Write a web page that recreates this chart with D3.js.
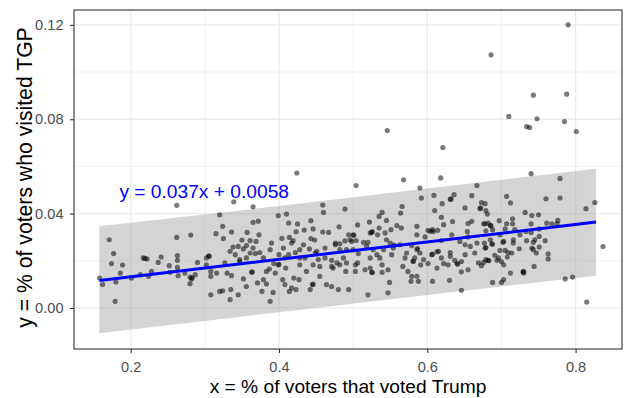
<!DOCTYPE html>
<html>
<head>
<meta charset="utf-8">
<script src="https://cdn.jsdelivr.net/npm/d3@7"></script>
<style>
  html, body { margin: 0; padding: 0; background: #ffffff; }
  svg { display: block; }
  text { font-family: "Liberation Sans", Arial, Helvetica, sans-serif; }
</style>
</head>
<body>
<svg id="chart" width="625" height="398"></svg>
<script>
// Share of voters who voted Trump (x) vs share of voters who visited TGP (y), one point per area
const trumpShare = [
  0.262,0.171,0.262,0.281,0.315,0.320,
  0.177,0.174,0.189,0.158,0.162,0.186,0.180,0.179,0.201,0.213,0.217,0.222,0.228,0.224,
  0.237,0.241,0.252,0.253,0.263,0.263,0.263,0.264,0.273,0.280,0.282,0.280,0.287,0.290,
  0.302,0.306,0.302,0.308,0.308,0.308,0.316,0.320,
  0.424,0.339,0.365,0.459,0.460,0.489,0.410,0.399,0.365,0.372,0.413,0.425,0.443,0.324,
  0.446,0.481,0.336,0.357,0.373,0.423,0.434,0.459,0.467,0.325,0.350,0.361,0.369,0.390,
  0.404,0.414,0.419,0.443,0.448,0.476,0.489,
  0.338,0.334,0.345,0.341,0.352,0.356,0.365,0.368,0.374,0.356,0.347,0.330,0.336,0.352,
  0.324,0.335,0.345,0.334,0.356,0.363,0.371,0.377,0.379,0.383,0.388,0.392,0.383,0.387,
  0.388,0.393,0.399,0.395,0.400,0.406,0.408,0.409,0.405,0.408,0.414,0.417,0.423,0.420,
  0.427,0.417,0.422,0.428,0.428,0.435,0.433,0.441,0.437,0.446,0.445,0.442,0.449,0.453,
  0.455,0.462,0.464,0.462,0.471,0.471,0.473,0.480,0.476,0.482,0.487,0.482,0.491,0.491,
  0.490,0.494,0.361,
  0.504,0.568,0.618,0.590,0.592,0.609,0.636,0.632,0.660,0.667,0.620,0.651,0.566,0.564,
  0.610,0.539,0.535,0.545,0.522,0.506,0.619,0.622,0.634,0.655,0.671,0.559,0.565,0.551,
  0.535,0.586,0.607,0.660,0.543,0.526,0.523,0.500,0.533,0.586,0.601,0.608,0.614,0.633,
  0.654,0.504,0.520,0.545,0.597,0.655,0.619,
  0.500,0.507,0.506,0.503,0.516,0.523,0.525,0.539,0.539,0.547,0.549,0.547,0.520,0.523,
  0.532,0.527,0.518,0.541,0.536,0.552,0.554,0.563,0.567,0.574,0.570,0.572,0.579,0.578,
  0.588,0.586,0.583,0.581,0.586,0.579,0.590,0.595,0.591,0.601,0.606,0.613,0.607,0.615,
  0.619,0.622,0.628,0.630,0.631,0.631,0.640,0.637,0.646,0.646,0.646,0.651,0.655,0.658,
  0.664,0.669,0.667,0.651,0.644,0.498,0.514,0.550,
  0.740,0.779,0.707,0.712,0.760,0.779,0.826,0.814,0.673,0.678,0.672,0.679,0.681,0.732,
  0.741,0.750,0.715,0.697,0.707,0.715,0.740,0.761,0.768,0.776,0.775,0.676,0.682,0.685,
  0.688,0.679,0.705,0.718,0.751,0.740,0.733,0.725,0.698,0.685,0.716,0.734,0.745,0.751,
  0.759,0.703,
  0.837,0.677,0.687,0.678,0.702,0.716,0.743,0.751,0.705,0.709,0.714,0.724,0.741,0.743,
  0.747,0.763,0.763,0.698,0.691,0.696,0.708,0.679,0.676,0.682,0.694,0.700,0.703,0.673,
  0.712,0.730,0.730,0.744,0.688,0.700,0.703,0.786,0.796,0.815,
  0.790,0.686,0.743,0.788,0.710,0.748,0.785,0.734,0.738,0.801,0.546,0.621,
  // overlapping points in the dense middle band
  0.587,0.607,0.613,0.581,0.526,0.503,0.641,0.555,
  0.400,0.446,0.455,0.364,0.478,0.471,0.428,
  0.679,0.688,0.729,0.683,0.678,0.686,
  0.631,0.604,0.501,0.525,0.496,
  0.283,0.305,0.219,0.494,
  0.327,0.347,0.379,0.413,0.451,0.482
];
const tgpShare = [
  0.0435,0.0289,0.0299,0.0309,0.0315,0.0395,
  0.0230,0.0188,0.0182,0.0127,0.0099,0.0148,0.0110,0.0028,0.0127,0.0141,0.0212,0.0208,0.0155,0.0134,
  0.0193,0.0216,0.0179,0.0151,0.0222,0.0202,0.0172,0.0137,0.0148,0.0131,0.0123,0.0103,0.0141,0.0193,
  0.0212,0.0219,0.0183,0.0155,0.0134,0.0056,0.0148,0.0070,
  0.0572,0.0450,0.0429,0.0436,0.0405,0.0419,0.0398,0.0391,0.0363,0.0368,0.0360,0.0356,0.0370,0.0346,
  0.0335,0.0344,0.0322,0.0320,0.0310,0.0323,0.0330,0.0322,0.0320,0.0294,0.0288,0.0285,0.0282,0.0275,
  0.0295,0.0299,0.0285,0.0294,0.0288,0.0275,0.0284,
  0.0258,0.0240,0.0261,0.0226,0.0250,0.0264,0.0254,0.0230,0.0235,0.0212,0.0205,0.0148,0.0137,0.0123,
  0.0073,0.0078,0.0056,0.0035,0.0091,0.0151,0.0106,0.0070,0.0120,0.0102,0.0028,0.0066,0.0155,0.0165,
  0.0247,0.0188,0.0183,0.0148,0.0226,0.0254,0.0212,0.0169,0.0120,0.0099,0.0070,0.0085,0.0078,0.0127,
  0.0120,0.0275,0.0235,0.0247,0.0183,0.0212,0.0268,0.0250,0.0155,0.0183,0.0099,0.0078,0.0233,0.0205,
  0.0176,0.0212,0.0099,0.0254,0.0202,0.0091,0.0169,0.0078,0.0268,0.0183,0.0212,0.0272,0.0247,0.0191,
  0.0155,0.0078,0.0233,
  0.0519,0.0543,0.0551,0.0508,0.0466,0.0477,0.0480,0.0462,0.0476,0.0519,0.0442,0.0424,0.0430,0.0402,
  0.0413,0.0405,0.0388,0.0371,0.0364,0.0352,0.0384,0.0353,0.0366,0.0358,0.0421,0.0349,0.0339,0.0332,
  0.0339,0.0346,0.0332,0.0367,0.0318,0.0324,0.0318,0.0310,0.0310,0.0310,0.0329,0.0324,0.0329,0.0310,
  0.0324,0.0286,0.0278,0.0289,0.0301,0.0301,0.0286,
  0.0247,0.0230,0.0191,0.0155,0.0162,0.0169,0.0151,0.0151,0.0183,0.0162,0.0108,0.0064,0.0056,0.0212,
  0.0226,0.0247,0.0261,0.0247,0.0212,0.0226,0.0254,0.0268,0.0176,0.0155,0.0212,0.0233,0.0134,0.0113,
  0.0113,0.0134,0.0212,0.0197,0.0247,0.0264,0.0233,0.0205,0.0183,0.0188,0.0226,0.0169,0.0113,0.0240,
  0.0212,0.0188,0.0183,0.0117,0.0219,0.0235,0.0188,0.0202,0.0153,0.0075,0.0197,0.0226,0.0162,0.0261,
  0.0233,0.0191,0.0275,0.0268,0.0282,0.0282,0.0278,0.0275,
  0.0569,0.0549,0.0473,0.0445,0.0463,0.0466,0.0447,0.0421,0.0447,0.0442,0.0424,0.0413,0.0398,0.0405,
  0.0392,0.0395,0.0378,0.0370,0.0357,0.0357,0.0356,0.0360,0.0357,0.0371,0.0357,0.0357,0.0360,0.0350,
  0.0332,0.0327,0.0335,0.0332,0.0335,0.0320,0.0324,0.0310,0.0310,0.0289,0.0289,0.0285,0.0289,0.0303,
  0.0285,0.0282,
  0.0260,0.0275,0.0272,0.0254,0.0278,0.0275,0.0278,0.0258,0.0244,0.0235,0.0233,0.0251,0.0254,0.0247,
  0.0233,0.0229,0.0208,0.0244,0.0223,0.0212,0.0216,0.0205,0.0193,0.0202,0.0202,0.0197,0.0183,0.0179,
  0.0148,0.0155,0.0148,0.0176,0.0108,0.0108,0.0120,0.0123,0.0131,0.0025,
  0.1200,0.1073,0.0902,0.0906,0.0812,0.0802,0.0790,0.0769,0.0765,0.0748,0.0752,0.0680,
  // overlapping points in the dense middle band
  0.0252,0.0228,0.0238,0.0199,0.0150,0.0183,0.0186,0.0266,
  0.0185,0.0101,0.0134,0.0153,0.0191,0.0176,0.0212,
  0.0256,0.0270,0.0153,0.0200,0.0357,0.0348,
  0.0460,0.0325,0.0308,0.0320,0.0289,
  0.0128,0.0221,0.0210,0.0310,
  0.0191,0.0197,0.0212,0.0226,0.0240,0.0247
];

// Fitted line y = 0.037x + 0.0058 and its prediction band
const fitSlope = 0.037;
const fitIntercept = 0.0058;
const fitLabel = "y = 0.037x + 0.0058";
const bandX     = [0.1577, 0.40, 0.60, 0.8275];
const bandLower = [-0.0107, -0.0018, 0.0055, 0.0137];
const bandUpper = [0.0346, 0.0432, 0.0506, 0.0590];

// Axis ticks
const xTicks = [0.2, 0.4, 0.6, 0.8];
const xMinor = [0.3, 0.5, 0.7];
const yTicks = [0.00, 0.04, 0.08, 0.12];
const yMinor = [0.02, 0.06, 0.10];

const xTitle = "x = % of voters that voted Trump";
const yTitle = "y = % of voters who visited TGP";

// Panel geometry
const panel = { left: 74, top: 10, right: 622, bottom: 349 };

const svg = d3.select("#chart");

const x = d3.scaleLinear().domain([0.1235, 0.8626]).range([panel.left, panel.right]);
const y = d3.scaleLinear().domain([-0.0174, 0.1263]).range([panel.bottom, panel.top]);

svg.append("rect")
  .attr("x", 0).attr("y", 0).attr("width", 625).attr("height", 398)
  .attr("fill", "#ffffff");

const clip = svg.append("defs").append("clipPath").attr("id", "panel-clip");
clip.append("rect")
  .attr("x", panel.left).attr("y", panel.top)
  .attr("width", panel.right - panel.left).attr("height", panel.bottom - panel.top);

const grid = svg.append("g").attr("clip-path", "url(#panel-clip)");

// minor grid
grid.selectAll(".xminor").data(xMinor).enter().append("line")
  .attr("x1", d => x(d)).attr("x2", d => x(d))
  .attr("y1", panel.top).attr("y2", panel.bottom)
  .attr("stroke", "#ebebeb").attr("stroke-width", 0.7);
grid.selectAll(".yminor").data(yMinor).enter().append("line")
  .attr("y1", d => y(d)).attr("y2", d => y(d))
  .attr("x1", panel.left).attr("x2", panel.right)
  .attr("stroke", "#ebebeb").attr("stroke-width", 0.7);
// major grid
grid.selectAll(".xmajor").data(xTicks).enter().append("line")
  .attr("x1", d => x(d)).attr("x2", d => x(d))
  .attr("y1", panel.top).attr("y2", panel.bottom)
  .attr("stroke", "#ebebeb").attr("stroke-width", 1.3);
grid.selectAll(".ymajor").data(yTicks).enter().append("line")
  .attr("y1", d => y(d)).attr("y2", d => y(d))
  .attr("x1", panel.left).attr("x2", panel.right)
  .attr("stroke", "#ebebeb").attr("stroke-width", 1.3);

const plot = svg.append("g").attr("clip-path", "url(#panel-clip)");

// prediction band
const band = bandX.map((bx, i) => ({ x: bx, lo: bandLower[i], hi: bandUpper[i] }));
plot.append("path")
  .datum(band)
  .attr("d", d3.area().x(d => x(d.x)).y0(d => y(d.lo)).y1(d => y(d.hi)))
  .attr("fill", "#999999").attr("fill-opacity", 0.42);

// points
const pts = trumpShare.map((v, i) => ({ x: v, y: tgpShare[i] }));
plot.selectAll("circle").data(pts).enter().append("circle")
  .attr("cx", d => x(d.x)).attr("cy", d => y(d.y))
  .attr("r", 2.6)
  .attr("fill", "#000000").attr("fill-opacity", 0.52);

// fitted line
const lineEnds = [bandX[0], bandX[bandX.length - 1]];
plot.append("path")
  .datum(lineEnds)
  .attr("d", d3.line().x(d => x(d)).y(d => y(fitSlope * d + fitIntercept)))
  .attr("fill", "none").attr("stroke", "#0000ff").attr("stroke-width", 3);

// equation label
svg.append("text")
  .attr("x", x(0.1847)).attr("y", y(0.0466))
  .attr("fill", "#0000ff").attr("font-size", "19.2px")
  .text(fitLabel);

// panel border
svg.append("rect")
  .attr("x", panel.left).attr("y", panel.top)
  .attr("width", panel.right - panel.left).attr("height", panel.bottom - panel.top)
  .attr("fill", "none").attr("stroke", "#333333").attr("stroke-width", 1.1);

// axes
const xAxis = svg.append("g")
  .attr("transform", `translate(0,${panel.bottom})`)
  .call(d3.axisBottom(x).tickValues(xTicks).tickFormat(d3.format(".1f")).tickSize(4).tickPadding(9));
const yAxis = svg.append("g")
  .attr("transform", `translate(${panel.left},0)`)
  .call(d3.axisLeft(y).tickValues(yTicks).tickFormat(d3.format(".2f")).tickSize(4).tickPadding(6.5));

[xAxis, yAxis].forEach(g => {
  g.select(".domain").remove();
  g.selectAll(".tick line").attr("stroke", "#333333").attr("stroke-width", 1.1);
  g.selectAll(".tick text")
    .attr("fill", "#4d4d4d")
    .attr("font-size", "14.6px")
    .attr("font-family", '"Liberation Sans", Arial, Helvetica, sans-serif');
});

// axis titles
svg.append("text")
  .attr("x", (panel.left + panel.right) / 2).attr("y", 393)
  .attr("text-anchor", "middle").attr("fill", "#000000").attr("font-size", "19.2px")
  .text(xTitle);
svg.append("text")
  .attr("transform", "translate(31.5,177.5) rotate(-90)")
  .attr("text-anchor", "middle").attr("fill", "#000000").attr("font-size", "21.2px")
  .text(yTitle);
</script>
</body>
</html>
